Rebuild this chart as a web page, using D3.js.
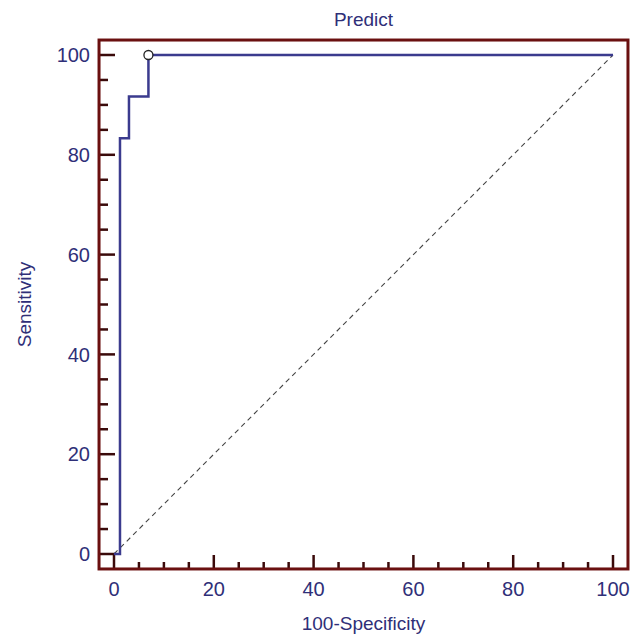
<!DOCTYPE html>
<html>
<head>
<meta charset="utf-8">
<script src="https://cdn.jsdelivr.net/npm/d3@7"></script>
<style>
  body { margin: 0; background: #fff; overflow: hidden; }
  text { font-family: Arial, "Liberation Sans", sans-serif; }
</style>
</head>
<body>
<svg id="viz" width="633" height="635"></svg>
<script>
const width = 633;
const height = 635;
const svg = d3.select("#viz");

// ROC曲線のデータ (100-Specificity, Sensitivity)
const fpr = [0, 1.2, 1.2, 3.0, 3.0, 6.9, 6.9, 100];
const tpr = [0, 0, 83.3, 83.3, 91.7, 91.7, 100, 100];
// 最適カットオフ点
const cutX = [6.9];
const cutY = [100];
const xTicks = [0, 20, 40, 60, 80, 100];
const yTicks = [0, 20, 40, 60, 80, 100];
const minorTicks = d3.range(0, 101, 5);

const frameCol = "#6a1010";
const navy = "#2f2f78";
const lineCol = "#3b3b8e";

const x = d3.scaleLinear().domain([0, 100]).range([114, 613]);
const y = d3.scaleLinear().domain([0, 100]).range([554, 55]);

// 枠の範囲 (データ範囲より少し広い)
const fx0 = x(-3), fx1 = x(103), fy0 = y(103), fy1 = y(-3);

// 目盛り (内向き)
svg.selectAll(".ytick")
    .data(minorTicks)
    .enter().append("line")
    .attr("x1", fx0)
    .attr("x2", d => fx0 + (d % 20 === 0 ? 16 : 9))
    .attr("y1", d => y(d))
    .attr("y2", d => y(d))
    .attr("stroke", "#3a0a0a")
    .attr("stroke-width", 2.5);

svg.selectAll(".xtick")
    .data(minorTicks)
    .enter().append("line")
    .attr("y1", fy1)
    .attr("y2", d => fy1 - (d % 20 === 0 ? 14 : 7))
    .attr("x1", d => x(d))
    .attr("x2", d => x(d))
    .attr("stroke", "#3a0a0a")
    .attr("stroke-width", 2.5);

// 対角線 (破線)
svg.append("line")
    .attr("x1", x(0)).attr("y1", y(0))
    .attr("x2", x(100)).attr("y2", y(100))
    .attr("stroke", "#444")
    .attr("stroke-width", 1.1)
    .attr("stroke-dasharray", "5,4");

// ROC曲線
const pts = fpr.map((v, i) => [v, tpr[i]]);
svg.append("path")
    .datum(pts)
    .attr("d", d3.line().x(d => x(d[0])).y(d => y(d[1])))
    .attr("fill", "none")
    .attr("stroke", lineCol)
    .attr("stroke-width", 2.5);

svg.selectAll(".cut")
    .data(cutX)
    .enter().append("circle")
    .attr("cx", d => x(d))
    .attr("cy", (d, i) => y(cutY[i]))
    .attr("r", 4.5)
    .attr("fill", "#fff")
    .attr("stroke", "#222")
    .attr("stroke-width", 1.3);

// 枠
svg.append("rect")
    .attr("x", fx0).attr("y", fy0)
    .attr("width", fx1 - fx0).attr("height", fy1 - fy0)
    .attr("fill", "none")
    .attr("stroke", frameCol)
    .attr("stroke-width", 3);

// 目盛りラベル
svg.selectAll(".ylab")
    .data(yTicks)
    .enter().append("text")
    .attr("x", 90)
    .attr("y", d => y(d))
    .attr("dy", "0.36em")
    .attr("text-anchor", "end")
    .attr("font-size", 20)
    .attr("fill", navy)
    .text(d => d);

svg.selectAll(".xlab")
    .data(xTicks)
    .enter().append("text")
    .attr("x", d => x(d))
    .attr("y", 596)
    .attr("text-anchor", "middle")
    .attr("font-size", 20)
    .attr("fill", navy)
    .text(d => d);

// タイトルと軸ラベル
svg.append("text")
    .attr("x", (fx0 + fx1) / 2)
    .attr("y", 26)
    .attr("text-anchor", "middle")
    .attr("font-size", 19)
    .attr("fill", navy)
    .text("Predict");

svg.append("text")
    .attr("x", (fx0 + fx1) / 2)
    .attr("y", 630)
    .attr("text-anchor", "middle")
    .attr("font-size", 19)
    .attr("fill", navy)
    .text("100-Specificity");

svg.append("text")
    .attr("transform", `translate(31, ${(fy0 + fy1) / 2}) rotate(-90)`)
    .attr("text-anchor", "middle")
    .attr("font-size", 19)
    .attr("fill", navy)
    .text("Sensitivity");
</script>
</body>
</html>
